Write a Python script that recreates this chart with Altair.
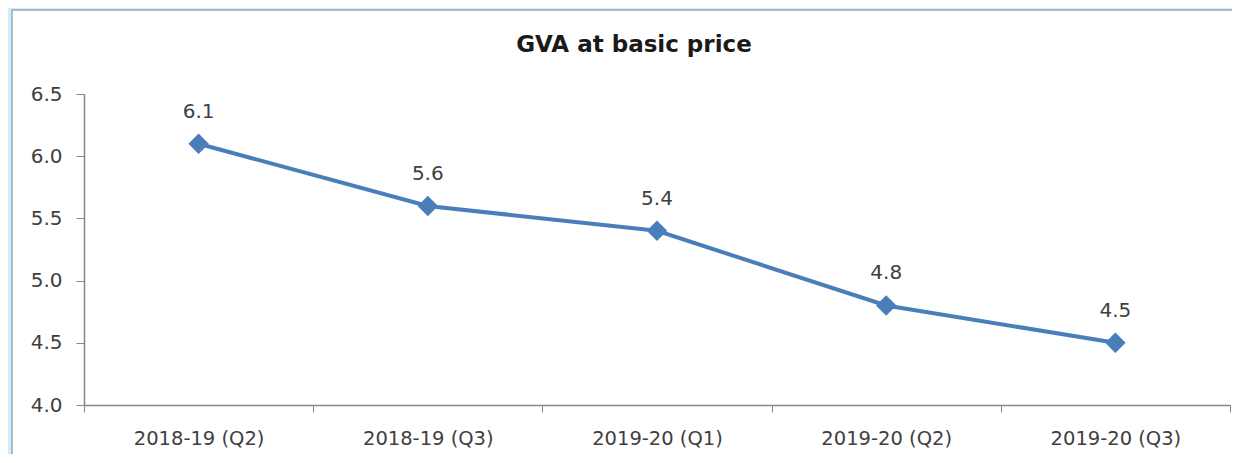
import altair as alt
import pandas as pd

quarters = ["2018-19 (Q2)", "2018-19 (Q3)", "2019-20 (Q1)", "2019-20 (Q2)", "2019-20 (Q3)"]
gva = [6.1, 5.6, 5.4, 4.8, 4.5]
y_ticks = [4.0, 4.5, 5.0, 5.5, 6.0, 6.5]
chart_title = "GVA at basic price"

df = pd.DataFrame({"quarter": quarters, "gva": gva})

FONT = "DejaVu Sans"
LINE = "#4A7EBB"

x_enc = alt.X(
    "quarter:N",
    sort=quarters,
    scale=alt.Scale(paddingInner=0, paddingOuter=0),
    axis=alt.Axis(
        title=None, labelAngle=0, tickBand="extent", tickSize=7,
        domainColor="#868686", tickColor="#868686", domainWidth=1.5,
        labelFont=FONT, labelFontSize=19.5, labelColor="#404040",
        labelPadding=26, labelBaseline="middle", zindex=1,
    ),
)
y_enc = alt.Y(
    "gva:Q",
    scale=alt.Scale(domain=[4.0, 6.5], nice=False, zero=False),
    axis=alt.Axis(
        title=None, values=y_ticks, format=".1f", grid=False, tickSize=8,
        domainColor="#868686", tickColor="#868686", domainWidth=1.5,
        labelFont=FONT, labelFontSize=20, labelColor="#404040",
        labelPadding=14, zindex=1,
    ),
)

panel = alt.Chart(alt.Data(values=[{"a": 1}])).mark_rect(
    fill="white", stroke="#98a8b0", strokeWidth=1.5
).encode(
    x=alt.value(-72), x2=alt.value(1175), y=alt.value(-84), y2=alt.value(385)
)

title = alt.Chart(alt.Data(values=[{"t": chart_title}])).mark_text(
    font=FONT, fontSize=23, fontWeight="bold", color="#1a1a1a",
    align="center", baseline="middle",
).encode(x=alt.value(550), y=alt.value(-49), text="t:N")

base = alt.Chart(df).encode(x=x_enc, y=y_enc)

line = base.mark_line(color=LINE, strokeWidth=4)
points = base.mark_point(shape="diamond", filled=True, size=420, color=LINE, opacity=1)
labels = base.mark_text(
    font=FONT, fontSize=20, color="#404040", dy=-32, baseline="middle"
).encode(text=alt.Text("gva:Q", format=".1f"))

chart = alt.layer(panel, title, line, points, labels).properties(
    width=1146,
    height=311,
    background="#C9EEFC",
    padding={"left": 76, "top": 86, "right": 2, "bottom": 49},
    autosize=alt.AutoSizeParams(type="none"),
).configure_view(stroke=None)

chart.save("out.html", embed_options={"renderer": "svg", "actions": False})
